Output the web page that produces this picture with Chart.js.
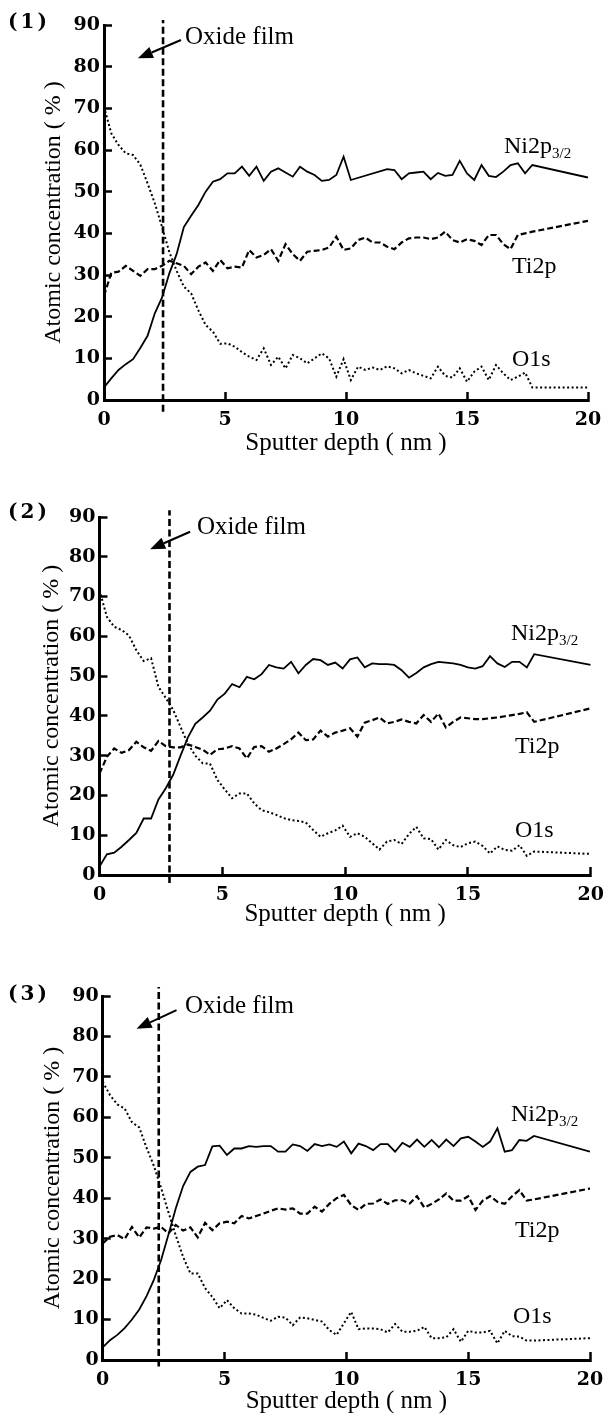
<!DOCTYPE html>
<html>
<head>
<meta charset="utf-8">
<script src="https://cdn.jsdelivr.net/npm/chart.js@4.4.0/dist/chart.umd.min.js"></script>
<style>
  body { margin: 0; background: #fff; }
  #page { position: relative; width: 603px; height: 1416px; background: #fff; overflow: hidden; }
  canvas { position: absolute; left: 0; }
  .lab { position: absolute; font-family: "Liberation Serif", serif; font-size: 24px; line-height: 24px; color: #000; white-space: nowrap; }
  .lab .sub { font-size: 15px; position: relative; top: 5px; }
  .oxide { font-size: 25px; line-height: 25px; }
  .panel { position: absolute; left: 8px; font-family: "DejaVu Serif", serif; font-weight: bold; font-size: 20px; line-height: 20px; letter-spacing: 3px; color: #000; }
</style>
</head>
<body>
<div id="page">
  <canvas id="c1" width="603" height="460" style="top:0px"></canvas>
  <canvas id="c2" width="603" height="461" style="top:470px"></canvas>
  <canvas id="c3" width="603" height="466" style="top:950px"></canvas>

  <div class="panel" style="top:11px">(1)</div>
  <div class="lab oxide" style="left:185px;top:23px">Oxide film</div>
  <div class="lab" style="left:504px;top:133px">Ni2p<span class="sub">3/2</span></div>
  <div class="lab" style="left:512px;top:253px">Ti2p</div>
  <div class="lab" style="left:512px;top:346px">O1s</div>

  <div class="panel" style="top:501px">(2)</div>
  <div class="lab oxide" style="left:197px;top:513px">Oxide film</div>
  <div class="lab" style="left:511px;top:620px">Ni2p<span class="sub">3/2</span></div>
  <div class="lab" style="left:515px;top:733px">Ti2p</div>
  <div class="lab" style="left:515px;top:817px">O1s</div>

  <div class="panel" style="top:983px">(3)</div>
  <div class="lab oxide" style="left:185px;top:992px">Oxide film</div>
  <div class="lab" style="left:511px;top:1101px">Ni2p<span class="sub">3/2</span></div>
  <div class="lab" style="left:515px;top:1217px">Ti2p</div>
  <div class="lab" style="left:513px;top:1303px">O1s</div>
</div>
<script>
// sputter depth (nm), shared by all three profiles
const depth = [
  0, 0.3, 0.6, 0.9, 1.2, 1.5, 1.8, 2.1, 2.4, 2.7,
  3.0, 3.3, 3.6, 3.9, 4.2, 4.5, 4.8, 5.1, 5.4, 5.7,
  6.0, 6.3, 6.6, 6.9, 7.2, 7.5, 7.8, 8.1, 8.4, 8.7,
  9.0, 9.3, 9.6, 9.9, 10.2, 10.5, 10.8, 11.1, 11.4, 11.7,
  12.0, 12.3, 12.6, 12.9, 13.2, 13.5, 13.8, 14.1, 14.4, 14.7,
  15.0, 15.3, 15.6, 15.9, 16.2, 16.5, 16.8, 17.1, 17.4, 17.7,
  20
];

// (1)
const ni1 = [
  3.0, 5.2, 7.2, 8.6, 9.8, 12.5, 15.4, 20.8, 24.6, 30.4,
  35, 41.5, 44.2, 46.8, 50, 52.4, 53, 54.4, 54.4, 56,
  53.8, 56, 52.6, 54.8, 55.6, 54.6, 53.6, 56, 54.8, 54,
  52.6, 52.8, 54, 58.4, 52.8, null, null, null, null, 55.4,
  55.2, 53, 54.4, 54.6, 54.8, 53, 54.5, 53.8, 54, 57.4,
  54.4, 52.8, 56.4, 53.8, 53.5, 54.8, 56.4, 56.8, 54.4, 56.4,
  53.4
];
const ti1 = [
  25, 30.5, 30.8, 32.2, 31, 29.8, 31.4, 31.4, 32.2, 33.4,
  32.8, 32.2, 30.2, 32, 33, 31, 33.6, 31.6, 32, 31.8,
  36, 34.2, 34.8, 36.2, 33.4, 37.4, 35, 33.4, 35.6, 35.8,
  36, 36.6, 39.2, 36, 36.4, 38.4, 39, 37.8, 37.8, 36.8,
  36.2, 37.8, 38.8, 39, 39, 38.6, 39, 40.4, 38.4, 37.8,
  38.6, 38.2, 37.2, 39.6, 39.6, 37.4, 36.2, 39.6, 40, 40.4,
  43
];
const o1 = [
  70.4, 64, 61.2, 59.2, 58.8, 56.5, 52, 47.2, 41.5, 35.5,
  31, 27.2, 25.6, 21.5, 18, 16.4, 13.5, 13.6, 12.8, 11.5,
  10.4, 9.6, 12.4, 8.4, 10.4, 7.6, 10.8, 10, 8.8, 10,
  11.2, 10, 5.6, 9.8, 4.8, 8, 7.2, 7.8, 7.2, 8.1,
  7.6, 6.4, 7.2, 6.4, 5.8, 5.2, 8, 5.8, 5.4, 7.6,
  4.4, 6.8, 8, 4.8, 8.4, 6.4, 4.8, 5.6, 6.6, 3.0,
  3.0
];

// (2)
const ni2 = [
  2.1, 5.2, 5.6, 7.1, 8.8, 10.6, 14.2, 14.2, 19, 21.8,
  25.2, 30, 34.6, 38, 39.6, 41.3, 44.1, 45.6, 48, 47.2,
  49.8, 49.2, 50.5, 52.8, 52.2, 51.9, 53.6, 50.7, 52.8, 54.3,
  54, 52.8, 53.4, 51.9, 54.2, 54.7, 52.2, 53.2, 53, 53,
  52.8, 51.5, 49.6, 50.8, 52.2, 53, 53.6, 53.4, 53.2, 52.8,
  52.2, 51.9, 52.5, 55, 53.2, 52.3, 53.6, 53.6, 52.2, 55.5,
  52.8
];
const ti2 = [
  25.5, 29.7, 31.8, 30.7, 31.4, 33.5, 32.1, 31.2, 33.7, 32.4,
  32.1, 32.1, 32.8, 32.2, 31.5, 30.2, 31.6, 31.8, 32.4, 31.8,
  29.3, 32.2, 32.4, 31, 31.8, 32.9, 34.1, 35.8, 33.9, 34.1,
  36.3, 34.8, 35.8, 36.3, 36.9, 34.8, 38.3, 38.9, 39.6, 38.1,
  38.5, 39.1, 38.5, 38.1, 40.2, 38.5, 40.6, 37.1, 38.5, 39.6,
  39.4, 39.2, 39.2, 39.4, 39.6, 39.9, 40.2, 40.5, 40.9, 38.5,
  41.9
];
const o2 = [
  71.6, 64.9, 62.4, 61.6, 60.2, 56.5, 53.8, 54.5, 47.3, 44.5,
  41.5, 37.2, 33, 30, 28.1, 28, 23.9, 21.5, 19.3, 20.5,
  20.5, 18, 16.3, 15.8, 15.1, 14.3, 13.8, 13.6, 13.2, 11.3,
  9.6, 10.5, 11.2, 12.4, 9.6, 10.5, 9.6, 8, 6.4, 8.4,
  8.8, 7.8, 10.3, 12.1, 9.2, 9, 6.4, 8.8, 7.5, 7,
  8, 8.4, 7.3, 5.4, 7.2, 6.3, 6.1, 7.5, 4.8, 5.9,
  5.3
];

// (3)
const ni3 = [
  3.1, 4.9, 6.2, 7.9, 10, 12.5, 15.8, 19.8, 24.8, 31,
  37.5, 43, 46.5, 47.8, 48.2, 52.8, 53, 50.7, 52.3, 52.3,
  52.9, 52.7, 52.9, 52.9, 51.5, 51.5, 53.3, 52.9, 51.7, 53.4,
  52.9, 53.3, 52.7, 54, 51.1, 53.5, 52.9, 51.9, 53.4, 53.4,
  51.5, 53.7, 52.7, 54.5, 52.7, 54.4, 52.6, 54.5, 52.9, 54.8,
  55.2, 54, 52.7, 54, 57.3, 51.5, 51.9, 54.4, 54.2, 55.4,
  51.5
];
const ti3 = [
  28.8, 30.5, 30.9, 29.9, 32.9, 30.3, 32.8, 32.5, 32.9, 31.3,
  33.4, 32, 32.8, 30.3, 33.9, 32.1, 33.8, 34.2, 33.8, 35.6,
  35, 35.6, 36.2, 36.9, 37.5, 37.2, 37.5, 36.2, 36.2, 37.9,
  36.7, 38.6, 40, 40.8, 38.3, 37.1, 38.6, 38.7, 39.7, 38.6,
  39.5, 39.5, 38.7, 40.5, 37.7, 38.6, 39.7, 41.2, 39.4, 39.4,
  40.5, 37.1, 39.4, 40.5, 39.1, 38.6, 40.5, 42, 39.4, 39.7,
  42.4
];
const o3 = [
  68.8, 65.5, 63.2, 62.2, 58.8, 57.5, 52.5, 48, 42.5, 36.5,
  30.8, 25.5, 21.4, 21.4, 17.8, 15.6, 12.8, 14.8, 12.8, 11.5,
  11.5, 11.2, 10.4, 9.7, 10.7, 10.5, 8.6, 10.5, 10.3, 9.9,
  9.5, 7.4, 6.2, 9.1, 11.9, 7.6, 7.8, 7.8, 7.6, 6.8,
  8.9, 7, 7, 7.2, 8.2, 5.4, 5.4, 5.6, 7.6, 4.5,
  7.2, 6.8, 6.8, 7.2, 4.1, 7.2, 5.9, 5.8, 4.8, 4.8,
  5.4
];

const xTicks = [0, 5, 10, 15, 20];
const yTicks = [0, 10, 20, 30, 40, 50, 60, 70, 80, 90];

// oxide film boundary and its arrow (depth, concentration)
const oxideDepth = [2.44, 2.85, 2.3];
const oxideEnds = [[-2.8, 91.2], [-2.0, 91.7], [-1.6, 92.2]];
const arrowFrom = [[3.18, 86.4], [3.69, 86.3], [3.03, 86.5]];
const arrowTo = [[1.4, 82.0], [2.06, 81.9], [1.39, 81.9]];

const panels = [
  { id: 'c1', top: 0, height: 460, plot: { l: 104, r: 588, t: 25, b: 400 }, xTitleMid: 443, yTitleMid: 54, ni: ni1, ti: ti1, o: o1 },
  { id: 'c2', top: 470, height: 461, plot: { l: 99.5, r: 590.7, t: 517, b: 875 }, xTitleMid: 914, yTitleMid: 52, ni: ni2, ti: ti2, o: o2 },
  { id: 'c3', top: 950, height: 466, plot: { l: 102.7, r: 590, t: 996, b: 1360 }, xTitleMid: 1401, yTitleMid: 53, ni: ni3, ti: ti3, o: o3 }
];

const tickFont = { family: 'DejaVu Serif', size: 19, weight: 'bold' };

function pts(vals) {
  return depth.map((d, i) => ({ x: d, y: vals[i] }));
}

// arrow pointing at the oxide layer
const arrowPlugin = {
  id: 'oxideArrow',
  afterDatasetsDraw(chart, args, opts) {
    const { ctx, scales: { x, y } } = chart;
    const x1 = x.getPixelForValue(opts.from[0]), y1 = y.getPixelForValue(opts.from[1]);
    const x2 = x.getPixelForValue(opts.to[0]), y2 = y.getPixelForValue(opts.to[1]);
    const ang = Math.atan2(y2 - y1, x2 - x1);
    const len = 15, half = 6;
    const bx = x2 - len * Math.cos(ang), by = y2 - len * Math.sin(ang);
    ctx.save();
    ctx.strokeStyle = '#000';
    ctx.fillStyle = '#000';
    ctx.lineWidth = 2;
    ctx.beginPath();
    ctx.moveTo(x1, y1);
    ctx.lineTo(bx, by);
    ctx.stroke();
    ctx.beginPath();
    ctx.moveTo(x2, y2);
    ctx.lineTo(bx + half * Math.sin(ang), by - half * Math.cos(ang));
    ctx.lineTo(bx - half * Math.sin(ang), by + half * Math.cos(ang));
    ctx.closePath();
    ctx.fill();
    ctx.restore();
  }
};

panels.forEach((p, i) => {
  const canvasBottom = p.top + p.height;
  new Chart(document.getElementById(p.id), {
    type: 'line',
    data: {
      datasets: [
        { label: 'Ni2p3/2', data: pts(p.ni), borderColor: '#000', borderWidth: 1.8, spanGaps: true },
        { label: 'Ti2p', data: pts(p.ti), borderColor: '#000', borderWidth: 2.2, borderDash: [6, 3] },
        { label: 'O1s', data: pts(p.o), borderColor: '#000', borderWidth: 2, borderDash: [2, 2.5] },
        {
          label: 'Oxide film',
          data: [{ x: oxideDepth[i], y: oxideEnds[i][0] }, { x: oxideDepth[i], y: oxideEnds[i][1] }],
          borderColor: '#000', borderWidth: 2.6, borderDash: [7, 3.5], clip: false
        }
      ]
    },
    options: {
      responsive: false,
      animation: false,
      elements: { point: { radius: 0 }, line: { tension: 0, fill: false } },
      layout: { padding: { left: 0, top: p.plot.t - p.top, right: 603 - p.plot.r, bottom: 0 } },
      plugins: {
        legend: { display: false },
        tooltip: { enabled: false },
        oxideArrow: { from: arrowFrom[i], to: arrowTo[i] }
      },
      scales: {
        x: {
          type: 'linear', position: 'bottom', min: 0, max: 20,
          afterBuildTicks: s => { s.ticks = xTicks.map(v => ({ value: v })); },
          afterFit: s => { s.height = canvasBottom - p.plot.b; s.paddingLeft = 0; s.paddingRight = 0; },
          border: { display: true, color: '#000', width: 3 },
          grid: { drawOnChartArea: false, drawTicks: true, tickLength: -8, tickWidth: 2.5, tickColor: '#000' },
          ticks: { color: '#000', font: tickFont, padding: 17, maxRotation: 0, autoSkip: false },
          title: {
            display: true, text: 'Sputter depth ( nm )', color: '#000',
            font: { family: 'Liberation Serif', size: 25, lineHeight: 1 },
            padding: { top: 0, bottom: canvasBottom - p.xTitleMid - 12.5 }
          }
        },
        y: {
          type: 'linear', position: 'left', min: 0, max: 90,
          afterBuildTicks: s => { s.ticks = yTicks.map(v => ({ value: v })); },
          afterFit: s => { s.width = p.plot.l; s.paddingTop = 0; s.paddingBottom = 0; },
          border: { display: true, color: '#000', width: 3 },
          grid: { drawOnChartArea: false, drawTicks: true, tickLength: -8, tickWidth: 2.5, tickColor: '#000' },
          ticks: { color: '#000', font: tickFont, padding: 12, autoSkip: false },
          title: {
            display: true, text: 'Atomic concentration ( % )', color: '#000',
            font: { family: 'Liberation Serif', size: 24, lineHeight: 1 },
            padding: { top: p.yTitleMid - 12, bottom: 0 }
          }
        }
      }
    },
    plugins: [arrowPlugin]
  });
});
</script>
</body>
</html>
